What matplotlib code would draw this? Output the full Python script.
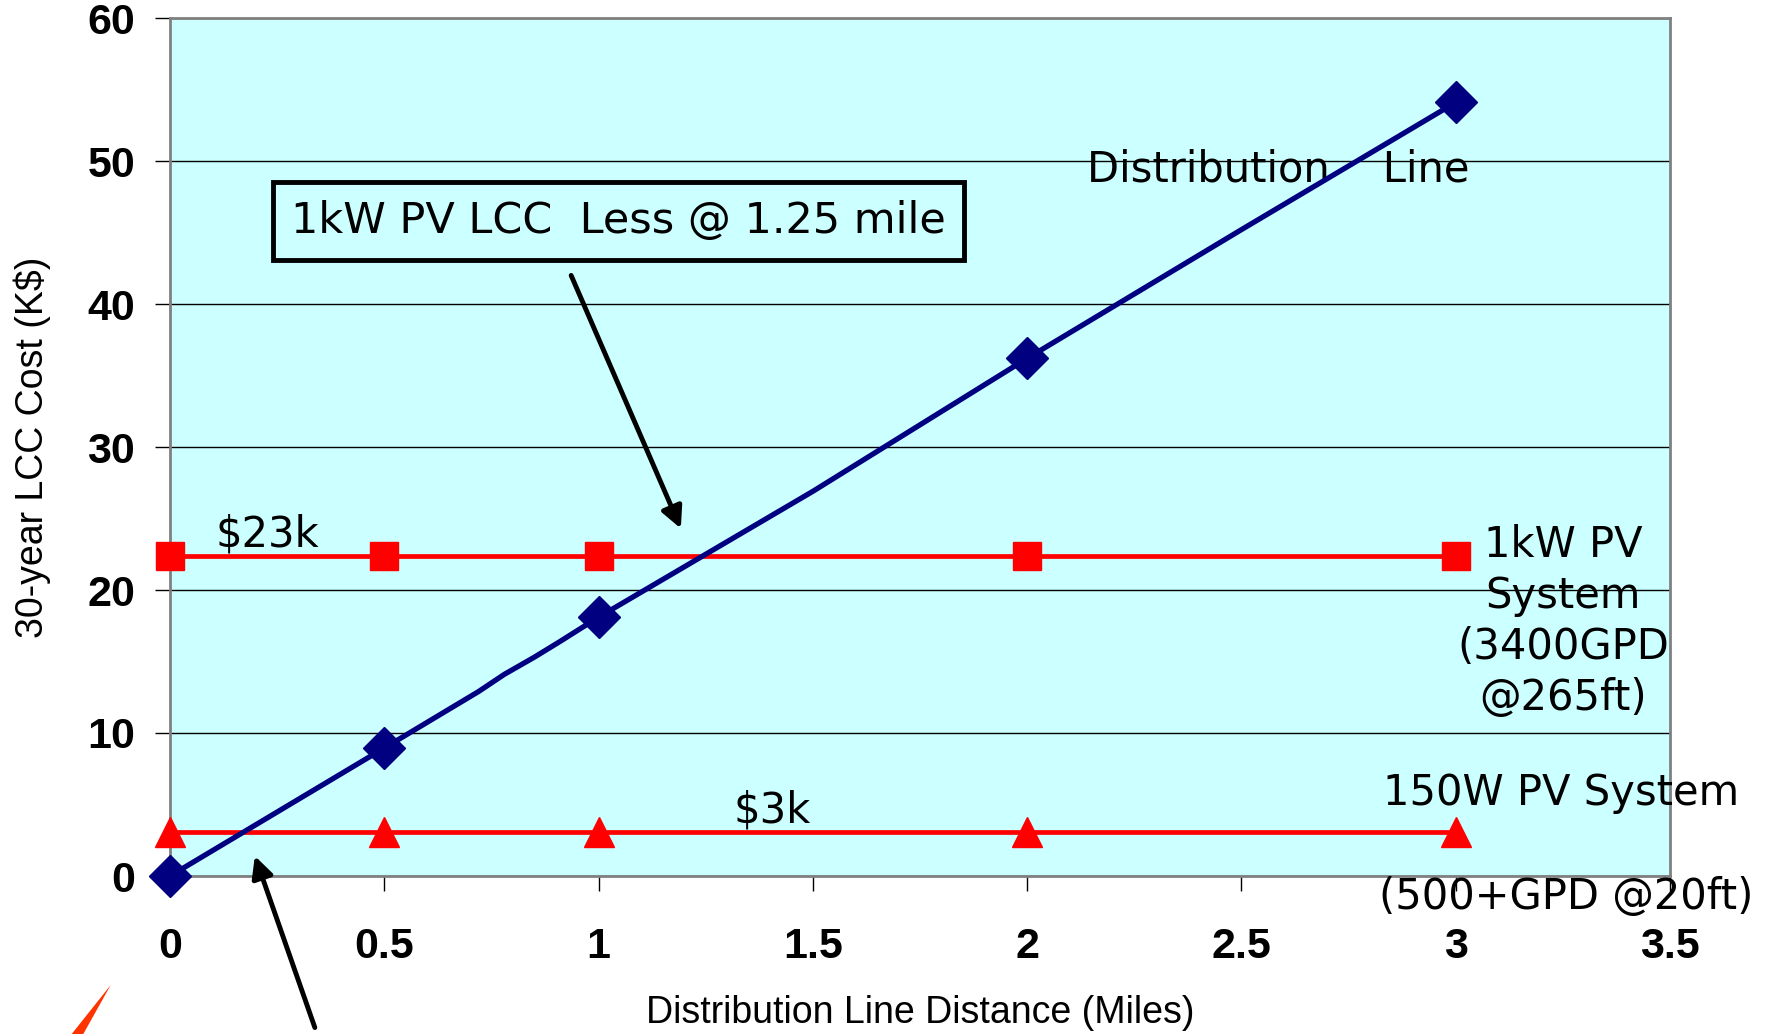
import matplotlib
matplotlib.use("Agg")
import matplotlib.pyplot as plt
from matplotlib.patches import Polygon

# Distribution line cost (K$) vs distance (miles); markers only at the main points
dist_x = [0, 0.5, 0.72, 0.78, 0.85, 0.91, 1, 1.5, 2, 2.5, 3]
dist_y = [0, 8.95, 12.9, 14.1, 15.3, 16.4, 18.1, 26.9, 36.2, 45.2, 54.1]
dist_marked = [0, 1, 6, 8, 10]

pv_x = [0, 0.5, 1, 2, 3]
pv_1kw = [22.4, 22.4, 22.4, 22.4, 22.4]
pv_150w = [3.05, 3.05, 3.05, 3.05, 3.05]

x_ticks = [0, 0.5, 1, 1.5, 2, 2.5, 3, 3.5]
x_tick_labels = ["0", "0.5", "1", "1.5", "2", "2.5", "3", "3.5"]
y_ticks = [0, 10, 20, 30, 40, 50, 60]
y_tick_labels = ["0", "10", "20", "30", "40", "50", "60"]

bg_color = "#CCFFFF"
blue = "#000080"
red = "#FF0000"
note_font = "DejaVu Sans"
tick_font = dict(family="Liberation Sans", fontweight="bold", fontsize=31)

fig = plt.figure(figsize=(17.66, 10.34), dpi=100)
ax = fig.add_axes([170 / 1766, 158 / 1034, 1500 / 1766, 858 / 1034])
ax.set_facecolor(bg_color)

ax.plot(dist_x, dist_y, color=blue, linewidth=3.8, marker="D", markersize=21,
        markevery=dist_marked, clip_on=False, zorder=4)
ax.plot(pv_x, pv_1kw, color=red, linewidth=3.4, marker="s", markersize=20,
        clip_on=False, zorder=3)
ax.plot(pv_x, pv_150w, color=red, linewidth=3.4, marker="^", markersize=22,
        clip_on=False, zorder=3)

ax.set_xlim(0, 3.5)
ax.set_ylim(0, 60)
ax.tick_params(axis="x", direction="out", length=11, width=1, pad=26)
ax.tick_params(axis="y", direction="out", length=11, width=1, pad=14)
ax.set_xticks(x_ticks, labels=x_tick_labels, **tick_font)
ax.set_yticks(y_ticks, labels=y_tick_labels, **tick_font)
ax.yaxis.grid(True, color="black", linewidth=1.0)
ax.set_axisbelow(True)

for side in ["left", "right", "top", "bottom"]:
    ax.spines[side].set_color("#808080")
    ax.spines[side].set_linewidth(2)

ax.set_xlabel("Distribution Line Distance (Miles)", fontsize=27,
              family="Liberation Sans", labelpad=20)
ax.set_ylabel("30-year LCC Cost (K$)", fontsize=27, family="Liberation Sans",
              labelpad=26)

# annotations
ax.text(2.14, 49.4, "Distribution    Line", fontsize=30, family=note_font,
        va="center", ha="left")
ax.text(0.107, 23.9, "$23k", fontsize=30, family=note_font, va="center")
ax.text(1.314, 4.6, "$3k", fontsize=30, family=note_font, va="center")
ax.text(3.25, 17.8, "1kW PV\nSystem\n(3400GPD\n@265ft)", fontsize=30,
        family=note_font, ha="center", va="center", multialignment="center",
        linespacing=1.28, clip_on=False)
ax.text(2.83, 5.8, "150W PV System", fontsize=30, family=note_font,
        va="center", ha="left", clip_on=False)
ax.text(2.82, -1.5, "(500+GPD @20ft)", fontsize=30, family=note_font,
        va="center", ha="left", clip_on=False)

ax.text(1.0465, 45.8, "1kW PV LCC  Less @ 1.25 mile", fontsize=31,
        family=note_font, ha="center", va="center",
        bbox=dict(boxstyle="square,pad=0.42", facecolor=bg_color,
                  edgecolor="black", linewidth=3.5))

ax.annotate("", xy=(1.192, 24.3), xytext=(0.936, 42.0),
            arrowprops=dict(arrowstyle="-|>", color="black", lw=3.5,
                            mutation_scale=32, shrinkA=0, shrinkB=0))
ax.annotate("", xy=(0.198, 1.4), xytext=(0.338, -10.6),
            arrowprops=dict(arrowstyle="-|>", color="black", lw=3.5,
                            mutation_scale=32, shrinkA=0, shrinkB=0),
            annotation_clip=False)

# orange pointer fragment at the bottom-left edge
wedge = Polygon([(110.7 / 1766, 1 - 985 / 1034), (71.7 / 1766, 0), (83.3 / 1766, 0)],
                closed=True, transform=fig.transFigure, facecolor="#FF3300",
                edgecolor="none")
fig.patches.append(wedge)

fig.savefig("out.png", dpi=100, facecolor="white")
